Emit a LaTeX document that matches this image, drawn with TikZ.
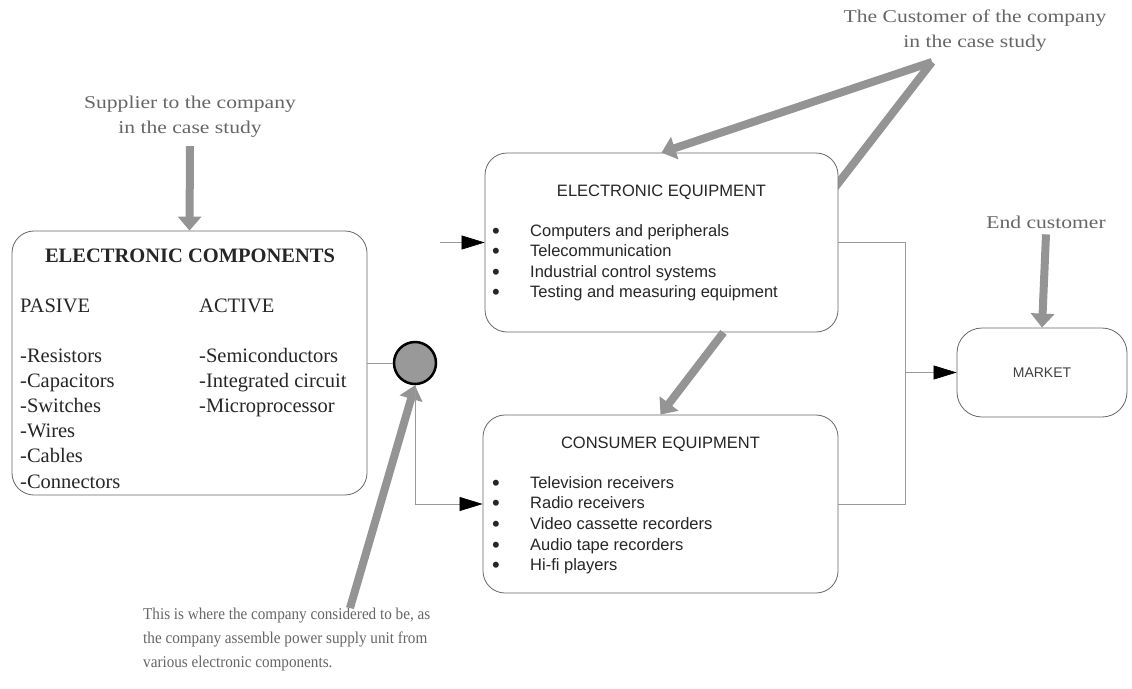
\documentclass[tikz,border=0pt]{standalone}
\usepackage{fontspec}
\setmainfont{Liberation Serif}
\newfontfamily\sansf{Liberation Sans}
\usetikzlibrary{arrows.meta,calc}
\pgfdeclarelayer{bg}
\pgfsetlayers{bg,main}
\tikzset{
  box/.style={draw=black!60, line width=0.8pt, rounded corners=22pt, fill=white, inner sep=0pt},
  serif/.style={font=\fontsize{20.5}{25}\selectfont, anchor=base west, inner sep=0pt, text=black!85},
  sans/.style={font=\sansf\fontsize{16.5}{20}\selectfont, inner sep=0pt, text=black!85},
  item/.style={sans, anchor=base west},
  bul/.style={sans, font=\sansf\fontsize{22}{22}\selectfont, anchor=base},
  note/.style={font=\fontsize{18}{24}\selectfont, text=black!60, inner sep=0pt, anchor=base},
  note2/.style={font=\fontsize{16.5}{20}\selectfont, text=black!60, inner sep=0pt, anchor=base west},
  thin/.style={draw=black!40, line width=0.7pt},
  thinarrow/.style={thin, -{Triangle[width=14pt,length=23pt,color=black,fill=black]}},
  big/.style={draw=black!42, line width=8pt},
  bigarrow/.style={big, -{Triangle[width=23pt,length=14pt]}},
}
\begin{document}
\begin{tikzpicture}[x=1pt,y=-1pt]
\useasboundingbox (0,0) rectangle (1132,688);
\begin{pgfonlayer}{bg}
\fill[white] (0,0) rectangle (1132,688);
\end{pgfonlayer}

% Electronic components box
\node[box, minimum width=355pt, minimum height=264pt] (comp) at (189.5,363) {};
\node[serif, font=\bfseries\fontsize{20.5}{25}\selectfont, anchor=base] (ctitle) at (190,262) {ELECTRONIC COMPONENTS};
\node[serif] (pas) at (20,312) {PASIVE};
\node[serif] (act) at (199,312) {ACTIVE};
\foreach \t [count=\i] in {-Resistors,-Capacitors,-Switches,-Wires,-Cables,-Connectors}
  \node[serif] (p\i) at (20,336.8+25.2*\i) {\t};
\foreach \t [count=\i] in {-Semiconductors,-Integrated circuit,-Microprocessor}
  \node[serif] (a\i) at (199,336.8+25.2*\i) {\t};

% Electronic equipment box
\node[box, minimum width=353pt, minimum height=179pt] (elec) at (661.5,242.5) {};
\node[sans, anchor=base] (etitle) at (661.5,196) {ELECTRONIC EQUIPMENT};
\foreach \t [count=\i] in {Computers and peripherals,Telecommunication,Industrial control systems,Testing and measuring equipment}{
  \node[bul] (eb\i) at (496,217.5+20.5*\i) {\textbullet};
  \node[item] (ei\i) at (530,215.5+20.5*\i) {\t};
}

% Consumer equipment box
\node[box, minimum width=355pt, minimum height=178pt] (cons) at (660.5,504) {};
\node[sans, anchor=base] (ctitle2) at (660.5,448) {CONSUMER EQUIPMENT};
\foreach \t [count=\i] in {Television receivers,Radio receivers,Video cassette recorders,Audio tape recorders,Hi-fi players}{
  \node[bul] (cb\i) at (496,469.3+20.7*\i) {\textbullet};
  \node[item] (ci\i) at (530,467.3+20.7*\i) {\t};
}

% Market
\node[box, rounded corners=25pt, minimum width=170pt, minimum height=89pt,
      font=\sansf\fontsize{14}{16}\selectfont, text=black!75] (market) at (1042,372.5) {MARKET};

% Circle (company position)
\node[circle, draw=black, line width=2.5pt, fill=black!40, minimum size=42pt, inner sep=0pt] (circ) at (415,363) {};

% Annotations
\node[note] (sup1) at (190,108) {\scalebox{1.2}[1]{Supplier to the company}};
\node[note] (sup2) at (190,133) {\scalebox{1.2}[1]{in the case study}};
\node[note] (cus1) at (975,23) {\scalebox{1.2}[1]{The Customer of the company}};
\node[note] (cus2) at (975,47) {\scalebox{1.2}[1]{in the case study}};
\node[note] (endc) at (1046,228) {\scalebox{1.2}[1]{End customer}};
\node[note2] (b1) at (143,619) {\scalebox{0.92}[1]{This is where the company considered to be, as}};
\node[note2] (b2) at (143,643) {\scalebox{0.92}[1]{the company assemble power supply unit from}};
\node[note2] (b3) at (143,667) {\scalebox{0.92}[1]{various electronic components.}};

% Thick grey arrows
\coordinate (apex) at (932,62);
\coordinate (btail) at (350,608);
\draw[bigarrow] ([yshift=-9pt]sup2.south) -- (comp.north);
\draw[bigarrow] (apex) -- (elec.north);
\begin{pgfonlayer}{bg}
\draw[big] (apex) -- ($(apex)!1.08!(elec.east |- 0,183)$);
\end{pgfonlayer}
\draw[bigarrow] ([xshift=62pt]elec.south) -- (cons.north);
\draw[bigarrow] ([yshift=-6pt]endc.south) -- (market.north);
\draw[bigarrow] (btail) -- (circ.south);

% Thin connectors
\coordinate (stub) at (440,242.5);
\coordinate (bus) at (905,372.5);
\draw[thin] (circ.west) -- (circ.west -| comp.east);
\draw[thinarrow] (circ.south) |- (cons.west);
\draw[thinarrow] (stub) -- (elec.west);
\draw[thin] (elec.east) -| (bus) |- (cons.east);
\draw[thinarrow] (bus) -- (market.west);
\end{tikzpicture}
\end{document}
